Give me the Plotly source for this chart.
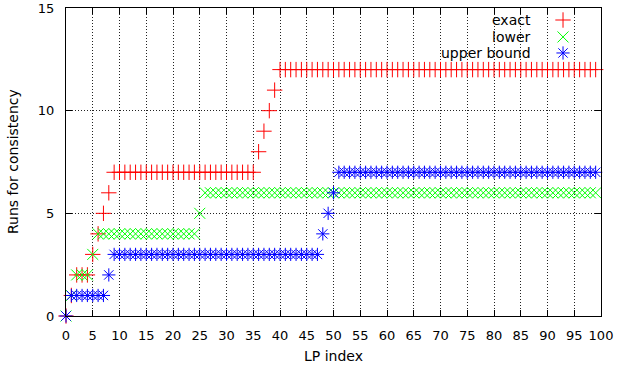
import plotly.graph_objects as go

lp_index = list(range(100))

exact = [0, 1, 2, 2, 2, 3, 4, 5, 6,
         7, 7, 7, 7, 7, 7, 7, 7, 7, 7, 7, 7, 7, 7, 7, 7, 7, 7, 7, 7, 7, 7, 7, 7, 7, 7, 7,
         8, 9, 10, 11,
         12, 12, 12, 12, 12, 12, 12, 12, 12, 12, 12, 12, 12, 12, 12, 12, 12, 12, 12, 12,
         12, 12, 12, 12, 12, 12, 12, 12, 12, 12, 12, 12, 12, 12, 12, 12, 12, 12, 12, 12,
         12, 12, 12, 12, 12, 12, 12, 12, 12, 12, 12, 12, 12, 12, 12, 12, 12, 12, 12, 12]

lower = [0, 1, 2, 2, 2, 3,
         4, 4, 4, 4, 4, 4, 4, 4, 4, 4, 4, 4, 4, 4, 4, 4, 4, 4, 4,
         5,
         6, 6, 6, 6, 6, 6, 6, 6, 6, 6, 6, 6, 6, 6, 6, 6, 6, 6, 6, 6, 6, 6, 6, 6, 6, 6, 6, 6,
         6, 6, 6, 6, 6, 6, 6, 6, 6, 6, 6, 6, 6, 6, 6, 6, 6, 6, 6, 6, 6, 6, 6, 6, 6, 6, 6, 6,
         6, 6, 6, 6, 6, 6, 6, 6, 6, 6, 6, 6, 6, 6, 6, 6, 6, 6, 6, 6, 6, 6, 6, 6, 6, 6]

upper = [0, 1, 1, 1, 1, 1, 1, 1, 2,
         3, 3, 3, 3, 3, 3, 3, 3, 3, 3, 3, 3, 3, 3, 3, 3, 3, 3, 3, 3, 3, 3, 3, 3, 3, 3, 3, 3,
         3, 3, 3, 3, 3, 3, 3, 3, 3, 3, 3,
         4, 5, 6,
         7, 7, 7, 7, 7, 7, 7, 7, 7, 7, 7, 7, 7, 7, 7, 7, 7, 7, 7, 7, 7, 7, 7, 7, 7,
         7, 7, 7, 7, 7, 7, 7, 7, 7, 7, 7, 7, 7, 7, 7, 7, 7, 7, 7, 7, 7, 7, 7, 7]

series_names = ["exact", "lower", "upper bound"]
series_colors = ["#ff0000", "#00ff00", "#0000ff"]
series_symbols = ["cross-thin-open", "x-thin-open", "asterisk-open"]
series_values = [exact, lower, upper]

x_ticks = list(range(0, 101, 5))
y_ticks = [0, 5, 10, 15]

FONT = "DejaVu Sans"

fig = go.Figure()
for name, vals, col, sym in zip(series_names, series_values, series_colors, series_symbols):
    fig.add_trace(go.Scatter(
        x=lp_index, y=vals, mode="markers", name=name, showlegend=False,
        marker=dict(symbol=sym, size=11, color=col, line=dict(color=col, width=1)),
        cliponaxis=False,
    ))

# manual gnuplot-style legend (text left of sample)
legend_y = [0.961, 0.906, 0.854]
for name, col, sym, ly in zip(series_names, series_colors, series_symbols, legend_y):
    fig.add_trace(go.Scatter(
        x=[0.929], y=[ly], xaxis="x2", yaxis="y2", mode="markers", showlegend=False,
        marker=dict(symbol=sym, size=11, color=col, line=dict(color=col, width=1)),
        hoverinfo="skip",
    ))
    fig.add_annotation(x=0.872, y=ly, xref="paper", yref="paper", text=name,
                       showarrow=False, xanchor="right", yanchor="middle", align="right",
                       font=dict(family=FONT, size=14, color="black"))

# axis titles
fig.add_annotation(x=0.5, y=-0.13, xref="paper", yref="paper", text="LP index",
                   showarrow=False, xanchor="center", yanchor="middle",
                   font=dict(family=FONT, size=14, color="black"))
fig.add_annotation(x=-0.099, y=0.5, xref="paper", yref="paper", text="Runs for consistency",
                   showarrow=False, xanchor="center", yanchor="middle", textangle=-90,
                   font=dict(family=FONT, size=14, color="black"))

axis_common = dict(
    showline=True, linecolor="black", linewidth=1, mirror="ticks",
    ticks="inside", ticklen=6, tickcolor="black", tickwidth=1,
    showgrid=True, gridcolor="#222222", griddash="1px,2px", gridwidth=1,
    zeroline=False, tickfont=dict(family=FONT, size=13, color="black"),
    automargin=False,
)

fig.update_layout(
    width=619, height=368,
    margin=dict(l=66, r=18, t=8, b=52),
    plot_bgcolor="white", paper_bgcolor="white",
    font=dict(family=FONT, size=13, color="black"),
    xaxis=dict(range=[0, 100], tickvals=x_ticks, ticklabelstandoff=7, **axis_common),
    yaxis=dict(range=[0, 15], tickvals=y_ticks, ticklabelstandoff=8, **axis_common),
    xaxis2=dict(range=[0, 1], overlaying="x", visible=False, fixedrange=True),
    yaxis2=dict(range=[0, 1], overlaying="y", visible=False, fixedrange=True),
)

fig.write_html("out.html", config={"displayModeBar": False},
               post_script="document.body.style.margin='0';document.body.style.overflow='hidden';")
